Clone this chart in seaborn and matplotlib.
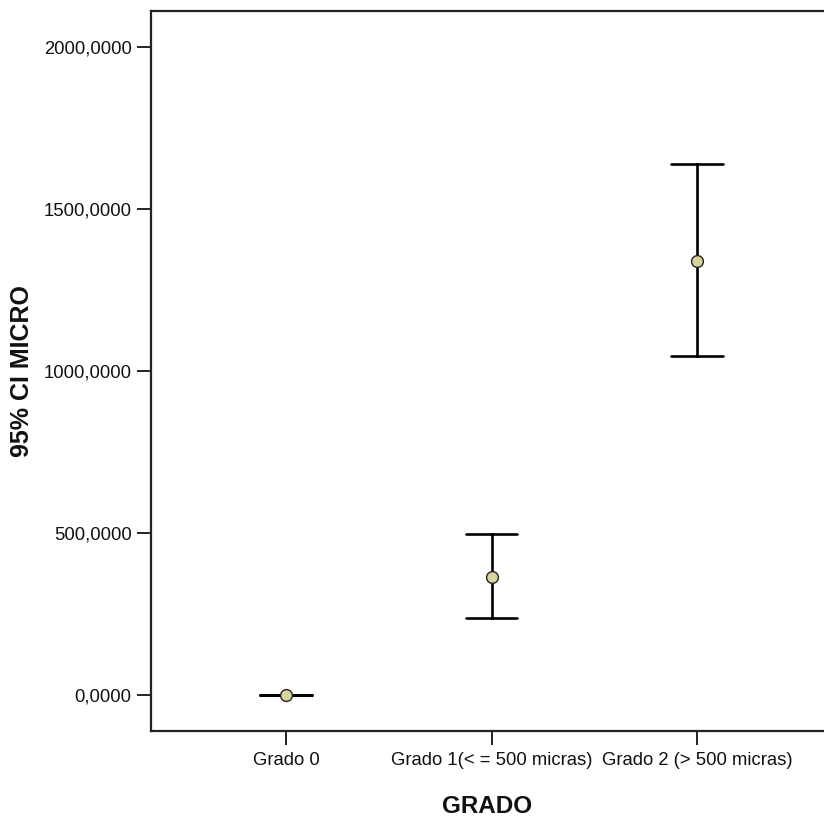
import pandas as pd
import matplotlib
matplotlib.use("Agg")
import matplotlib.pyplot as plt
import seaborn as sns
from matplotlib.ticker import FuncFormatter

sns.set_theme(style="white")
plt.rcParams['font.family'] = ['Liberation Sans', 'DejaVu Sans']

# valores (media e IC 95%)
grados = ['Grado 0', 'Grado 1(< = 500 micras)', 'Grado 2 (> 500 micras)']
media = [0, 364, 1340]
ic_inf = [0, 238, 1046]
ic_sup = [0, 497, 1639]
yticks = [0, 500, 1000, 1500, 2000]

# tabla larga: limite inferior, media y limite superior por grupo
filas = []
for g, lo, m, hi in zip(grados, ic_inf, media, ic_sup):
    for v in (lo, m, hi):
        filas.append({'GRADO': g, 'MICRO': v})
df = pd.DataFrame(filas)

fig = plt.figure(figsize=(8.24, 8.23), dpi=100)
ax = fig.add_axes([151 / 824, 1 - 731 / 823, 1 - 151 / 824, (731 - 11) / 823])

sns.pointplot(data=df, x='GRADO', y='MICRO', order=grados,
              estimator='median', errorbar=lambda v: (v.min(), v.max()),
              linestyle='none', capsize=0.25, color='black',
              err_kws={'linewidth': 1.9, 'color': 'black'},
              marker='o', markersize=8.5, markerfacecolor='#D8D49B',
              markeredgecolor='#222222', markeredgewidth=1.0, ax=ax)

# marcadores encima de las barras
for ln in ax.lines:
    if ln.get_marker() == 'o':
        ln.set_zorder(5)

ax.set_xlim(-0.657, 2.618)
ax.set_ylim(-111, 2111)
ax.set_yticks(yticks)
ax.yaxis.set_major_formatter(FuncFormatter(lambda v, p: f"{v:.4f}".replace('.', ',')))

for s in ['left', 'bottom', 'top']:
    ax.spines[s].set_visible(True)
    ax.spines[s].set_color('#222222')
    ax.spines[s].set_linewidth(1.6)
ax.spines['right'].set_visible(False)

ax.tick_params(axis='both', which='major', direction='out', length=10, width=1.4,
               color='#222222', labelsize=13.3, labelcolor='#111111',
               left=True, bottom=True, pad=4)
ax.tick_params(axis='x', pad=5)

ax.set_xlabel('GRADO', fontsize=17.5, fontweight='bold', color='#111111', labelpad=19)
ax.set_ylabel('95% CI MICRO', fontsize=18, fontweight='bold', color='#111111', labelpad=7)

fig.savefig('out.png', dpi=100)
